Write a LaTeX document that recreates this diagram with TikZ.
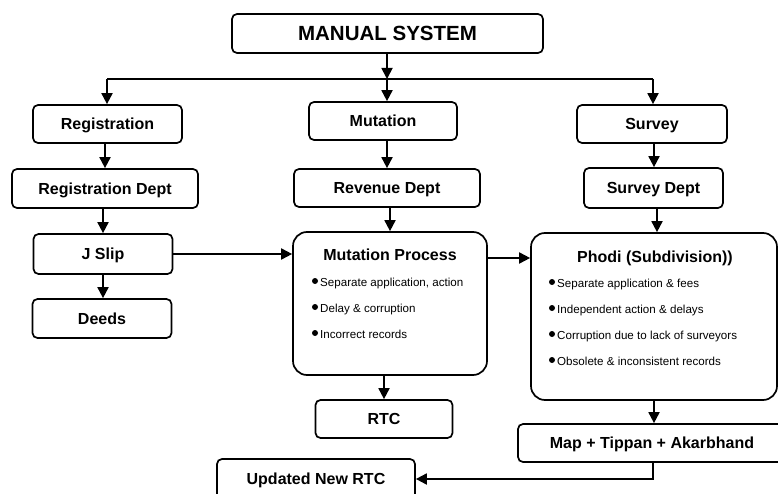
\documentclass[tikz,border=0pt]{standalone}
\usepackage{fontspec}
\setmainfont{Liberation Sans}
\usetikzlibrary{arrows.meta}
\begin{document}
\begin{tikzpicture}[x=1pt,y=-1pt,
  box/.style={draw,line width=1.7pt,rounded corners=5pt,inner sep=0pt,
    font=\fontsize{16}{18}\selectfont\bfseries,align=center,text height=11.5pt,text depth=0pt},
  bigbox/.style={draw,line width=1.7pt,rounded corners=14pt,inner sep=0pt},
  head/.style={font=\fontsize{16}{18}\selectfont\bfseries,inner sep=0pt,text height=11.5pt,text depth=0pt},
  item/.style={font=\fontsize{11.6}{13}\selectfont,anchor=west,inner sep=0pt,text height=8.3pt,text depth=0pt},
  dot/.style={circle,fill,inner sep=0pt,minimum size=6pt},
  arr/.style={line width=1.8pt,-{Triangle[width=11pt,length=11pt]}},
  ln/.style={line width=1.8pt}]
\useasboundingbox (0,0) rectangle (778,494);
\begin{scope}
\clip (0,0) rectangle (778,494);
% top
\node[box,minimum width=311pt,minimum height=39pt,font=\fontsize{20.5}{23}\selectfont\bfseries,text height=14.7pt] (title) at (387.5,33.5) {MANUAL SYSTEM};
\node[box,minimum width=149pt,minimum height=38pt] (reg) at (107.5,124) {Registration};
\node[box,minimum width=148pt,minimum height=38pt] (mut) at (383,121) {Mutation};
\node[box,minimum width=150pt,minimum height=38pt] (sur) at (652,124) {Survey};
\node[box,minimum width=186pt,minimum height=39pt] (regd) at (105,188.5) {Registration Dept};
\node[box,minimum width=186pt,minimum height=38pt] (revd) at (387,188) {Revenue Dept};
\node[box,minimum width=139pt,minimum height=40pt] (surd) at (653.5,188) {Survey Dept};
\node[box,minimum width=139pt,minimum height=40pt] (jslip) at (103,254) {J Slip};
\node[box,minimum width=139pt,minimum height=39pt] (deeds) at (102,318.5) {Deeds};
\node[bigbox,minimum width=194pt,minimum height=143pt] (mproc) at (390,303.5) {};
\node[bigbox,minimum width=246pt,minimum height=167pt] (phodi) at (654,316.5) {};
\node[box,minimum width=137pt,minimum height=38pt] (rtc) at (384,419) {RTC};
\node[box,minimum width=268pt,minimum height=38pt] (map) at (652,443) {Map + Tippan + Akarbhand};
\node[box,minimum width=198pt,minimum height=40pt] (upd) at (316,479) {Updated New RTC};
% mutation process contents
\node[head] (mh) at (390,255) {Mutation Process};
\node[dot] (md1) at (315,281) {};
\node[item] (mt1) at (320,282.5) {Separate application, action};
\node[dot] (md2) at (315,307) {};
\node[item] (mt2) at (320,308.5) {Delay \& corruption};
\node[dot] (md3) at (315,333) {};
\node[item] (mt3) at (320,334.5) {Incorrect records};
% phodi contents
\node[head] (ph) at (655,257) {Phodi (Subdivision))};
\node[dot] (pd1) at (552,282) {};
\node[item] (pt1) at (557,283.5) {Separate application \& fees};
\node[dot] (pd2) at (552,308) {};
\node[item] (pt2) at (557,309.5) {Independent action \& delays};
\node[dot] (pd3) at (552,334) {};
\node[item] (pt3) at (557,335.5) {Corruption due to lack of surveyors};
\node[dot] (pd4) at (552,360) {};
\node[item] (pt4) at (557,361.5) {Obsolete \& inconsistent records};
% connectors
\coordinate (jm) at (387,79);
\coordinate (jl) at (107,79);
\coordinate (jr) at (653,79);
\draw[arr] (title.south -| jm) -- (jm);
\draw[ln] (jl) -- (jr);
\draw[arr] (jl) -- (jl |- reg.north);
\draw[arr] (jm) -- (jm |- mut.north);
\draw[arr] (jr) -- (jr |- sur.north);
\draw[arr] (regd.north |- reg.south) -- (regd.north);
\draw[arr] (revd.north |- mut.south) -- (revd.north);
\draw[arr] ([xshift=0.5pt]surd.north |- sur.south) -- ([xshift=0.5pt]surd.north);
\draw[arr] (regd.south -| jslip.north) -- (jslip.north);
\draw[arr] (revd.south -| mproc.north) -- (mproc.north);
\draw[arr] ([xshift=3.5pt]surd.south) -- ([xshift=3.5pt]surd.south |- phodi.north);
\draw[arr] (jslip.south) -- (jslip.south |- deeds.north);
\draw[arr] (jslip.east) -- (jslip.east -| mproc.west);
\draw[arr] ([yshift=45.5pt]mproc.east) -- ([yshift=45.5pt]mproc.east -| phodi.west);
\draw[arr] (rtc.north |- mproc.south) -- (rtc.north);
\draw[arr] (phodi.south) -- (phodi.south |- map.north);
\draw[arr] ([xshift=1pt]map.south) |- (upd.east);
\end{scope}
\end{tikzpicture}
\end{document}
